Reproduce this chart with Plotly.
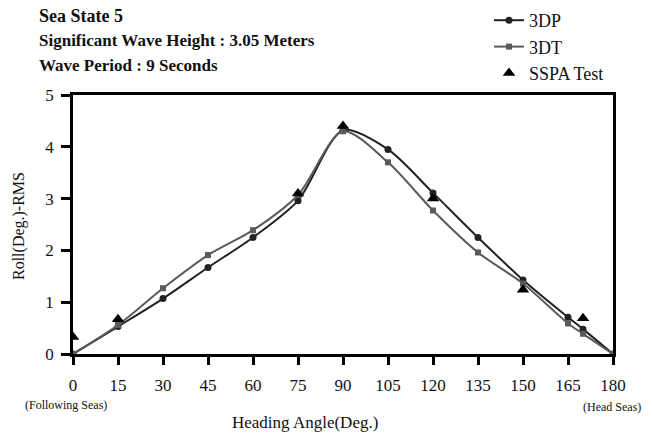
import plotly.graph_objects as go

angles = [0, 15, 30, 45, 60, 75, 90, 105, 120, 135, 150, 165, 170, 180]
dp_values = [0, 0.53, 1.07, 1.67, 2.25, 2.96, 4.32, 3.95, 3.11, 2.25, 1.43, 0.71, 0.48, 0]
dt_values = [0, 0.56, 1.27, 1.91, 2.39, 3.07, 4.30, 3.70, 2.77, 1.96, 1.36, 0.59, 0.39, 0]
sspa_angles = [0, 15, 75, 90, 120, 150, 170]
sspa_values = [0.33, 0.67, 3.10, 4.40, 3.00, 1.24, 0.69]
x_ticks = list(range(0, 181, 15))
y_ticks = [0, 1, 2, 3, 4, 5]

FONT = "Liberation Serif, Times New Roman, serif"

L, R, T, B = 73, 40, 95, 80
W, H = 653, 434
PW, PH = W - L - R, H - T - B

def px(x):
    return (x - L) / PW

def py(y):
    return (H - B - y) / PH

fig = go.Figure()
fig.add_trace(go.Scatter(
    x=angles, y=dp_values, name="3DP", mode="lines+markers",
    line=dict(color="#222222", width=2, shape="spline", smoothing=0.8),
    marker=dict(symbol="circle", size=7, color="#222222")))
fig.add_trace(go.Scatter(
    x=angles, y=dt_values, name="3DT", mode="lines+markers",
    line=dict(color="#5a5a5a", width=2, shape="spline", smoothing=0.8),
    marker=dict(symbol="square", size=6, color="#5a5a5a")))
fig.add_trace(go.Scatter(
    x=sspa_angles, y=sspa_values, name="SSPA Test", mode="markers",
    marker=dict(symbol="triangle-up", size=11, color="#000000")))

fig.update_layout(
    width=W, height=H,
    margin=dict(l=L, r=R, t=T, b=B, autoexpand=False),
    paper_bgcolor="white", plot_bgcolor="white",
    font=dict(family=FONT, size=16, color="#111111"),
    showlegend=True,
    legend=dict(x=px(489), y=py(2), xanchor="left", yanchor="top",
                font=dict(family=FONT, size=18, color="#111111"),
                bgcolor="rgba(0,0,0,0)", itemwidth=30),
    xaxis=dict(range=[0, 180], tickvals=x_ticks, ticktext=[str(t) for t in x_ticks],
               showgrid=False, zeroline=False, showline=True, linecolor="black",
               linewidth=2.5, mirror=True, ticks="outside", ticklen=8, tickwidth=2.5,
               tickcolor="black", ticklabelstandoff=6,
               tickfont=dict(family=FONT, size=17, color="#111111")),
    yaxis=dict(range=[0, 5], tickvals=y_ticks, showgrid=False, zeroline=False,
               showline=True, linecolor="black", linewidth=2.5, mirror=True,
               ticks="outside", ticklen=9, tickwidth=2.5, tickcolor="black",
               ticklabelstandoff=4,
               tickfont=dict(family=FONT, size=17, color="#111111")),
)

annots = [
    dict(text="<b>Sea State 5</b>", x=px(37), y=py(16), size=18),
    dict(text="<b>Significant Wave Height : 3.05 Meters</b>", x=px(37), y=py(41), size=17),
    dict(text="<b>Wave Period : 9 Seconds</b>", x=px(37), y=py(65), size=17),
]
for a in annots:
    fig.add_annotation(text=a["text"], x=a["x"], y=a["y"], xref="paper", yref="paper",
                       xanchor="left", yanchor="middle", showarrow=False,
                       font=dict(family=FONT, size=a["size"], color="#111111"))

fig.add_annotation(text="(Following Seas)", x=px(66), y=py(405), xref="paper", yref="paper",
                   xanchor="center", yanchor="middle", showarrow=False,
                   font=dict(family=FONT, size=12, color="#111111"))
fig.add_annotation(text="(Head Seas)", x=px(612), y=py(407), xref="paper", yref="paper",
                   xanchor="center", yanchor="middle", showarrow=False,
                   font=dict(family=FONT, size=12, color="#111111"))
fig.add_annotation(text="Heading Angle(Deg.)", x=px(305), y=py(422), xref="paper", yref="paper",
                   xanchor="center", yanchor="middle", showarrow=False,
                   font=dict(family=FONT, size=17, color="#111111"))
fig.add_annotation(text="Roll(Deg.)-RMS", x=px(19), y=py(226), xref="paper", yref="paper",
                   xanchor="center", yanchor="middle", showarrow=False, textangle=-90,
                   font=dict(family=FONT, size=16, color="#111111"))

fig.write_html("out.html")
